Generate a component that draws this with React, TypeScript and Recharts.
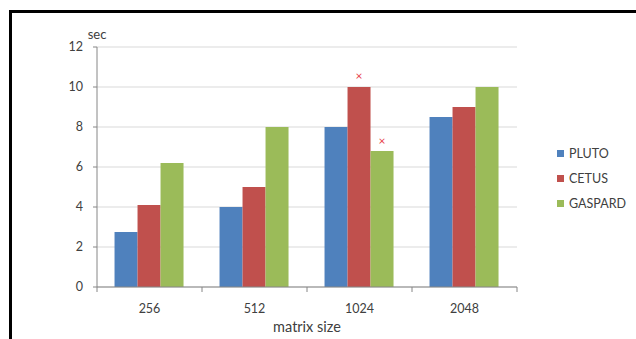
import React from 'react';
import { BarChart, Bar, XAxis, YAxis, CartesianGrid, Legend, LabelList } from 'recharts';

const categories = ['256', '512', '1024', '2048'];
const seriesNames = ['PLUTO', 'CETUS', 'GASPARD'];
const pluto = [2.75, 4, 8, 8.5];
const cetus = [4.1, 5, 10, 9];
const gaspard = [6.2, 8, 6.8, 10];
const cetusMarker: (number | null)[] = [null, null, 10.55, null];
const gaspardMarker: (number | null)[] = [null, null, 7.3, null];
const yTicks = [0, 2, 4, 6, 8, 10, 12];

const data = categories.map((c, i) => ({
  name: c,
  PLUTO: pluto[i],
  CETUS: cetus[i],
  GASPARD: gaspard[i],
  cetusGap: cetusMarker[i] != null ? (cetusMarker[i] as number) - cetus[i] : 0,
  gaspardGap: gaspardMarker[i] != null ? (gaspardMarker[i] as number) - gaspard[i] : 0,
}));

const FONT = 'Lato, "Open Sans", sans-serif';
const TXT = '#404040';
const W = 636;
const H = 339;
const M = { top: 47, right: 119, bottom: 22, left: 0 };
const YW = 97;

const plotW = W - M.left - M.right - YW;
const band = plotW / categories.length;

const XTick = (props: any) => {
  const { x, y, payload, index } = props;
  return (
    <g>
      <line x1={x - band / 2} x2={x - band / 2} y1={y - 8} y2={y - 3} stroke="#868686" />
      {index === categories.length - 1 && (
        <line x1={x + band / 2} x2={x + band / 2} y1={y - 8} y2={y - 3} stroke="#868686" />
      )}
      <text x={x} y={y + 18} textAnchor="middle" fontFamily={FONT} fontSize={12.5} fill={TXT}>
        {payload.value}
      </text>
    </g>
  );
};

const Marker = (props: any) => {
  const { x, y, width, value } = props;
  if (!value || Number(value) <= 0) return null;
  const cx = Number(x) + Number(width) / 2;
  return (
    <text x={cx} y={Number(y) + 4} textAnchor="middle" fontFamily={FONT} fontSize={12} fill="#e8404a">
      ×
    </text>
  );
};

const LegendContent = (props: any) => {
  const all = props.payload || [];
  const items = seriesNames.map((n) => all.find((p: any) => p.value === n)).filter(Boolean);
  return (
    <div style={{ fontFamily: FONT, fontSize: 12.5, color: TXT }}>
      {items.map((p: any) => (
        <div key={p.value} style={{ display: 'flex', alignItems: 'center', height: 25 }}>
          <span style={{ display: 'inline-block', width: 7, height: 7, background: p.color, marginRight: 5 }} />
          <span>{p.value}</span>
        </div>
      ))}
    </div>
  );
};

export default function App() {
  return (
    <div style={{ position: 'absolute', left: 0, top: 0, width: W, height: H, background: '#fff' }}>
      <div
        style={{
          position: 'absolute',
          left: 9,
          top: 10,
          width: W - 9,
          height: H - 10,
          borderTop: '3px solid #000',
          borderLeft: '3px solid #000',
          boxSizing: 'border-box',
        }}
      />
      <div style={{ position: 'absolute', left: 0, top: 0 }}>
        <BarChart width={W} height={H} data={data} margin={M} barCategoryGap="16.7%" barGap={0}>
          <CartesianGrid horizontal vertical={false} stroke="#d9d9d9" />
          <XAxis
            dataKey="name"
            height={30}
            axisLine={{ stroke: '#868686' }}
            tickLine={false}
            tick={<XTick />}
            interval={0}
            label={{ value: 'matrix size', position: 'insideBottom', offset: -15, fill: TXT, fontFamily: FONT, fontSize: 14.5 }}
          />
          <YAxis
            width={YW}
            domain={[0, 12]}
            ticks={yTicks}
            interval={0}
            axisLine={{ stroke: '#868686' }}
            tickLine={{ stroke: '#868686' }}
            tickSize={4}
            tickMargin={10}
            tick={{ fill: TXT, fontFamily: FONT, fontSize: 12.5 }}
            label={{
              content: (p: any) => (
                <text
                  x={p.viewBox.x + p.viewBox.width}
                  y={p.viewBox.y - 8}
                  textAnchor="middle"
                  fontFamily={FONT}
                  fontSize={13}
                  fill={TXT}
                >
                  sec
                </text>
              ),
            }}
          />
          <Legend
            layout="vertical"
            align="center"
            verticalAlign="middle"
            wrapperStyle={{ left: 557, top: 141, width: 80 }}
            content={<LegendContent />}
          />
          <Bar dataKey="PLUTO" stackId="p" fill="#4F81BD" isAnimationActive={false} />
          <Bar dataKey="CETUS" stackId="c" fill="#C0504D" isAnimationActive={false} />
          <Bar dataKey="cetusGap" stackId="c" fill="transparent" legendType="none" isAnimationActive={false}>
            <LabelList dataKey="cetusGap" content={<Marker />} />
          </Bar>
          <Bar dataKey="GASPARD" stackId="g" fill="#9BBB59" isAnimationActive={false} />
          <Bar dataKey="gaspardGap" stackId="g" fill="transparent" legendType="none" isAnimationActive={false}>
            <LabelList dataKey="gaspardGap" content={<Marker />} />
          </Bar>
        </BarChart>
      </div>
    </div>
  );
}
